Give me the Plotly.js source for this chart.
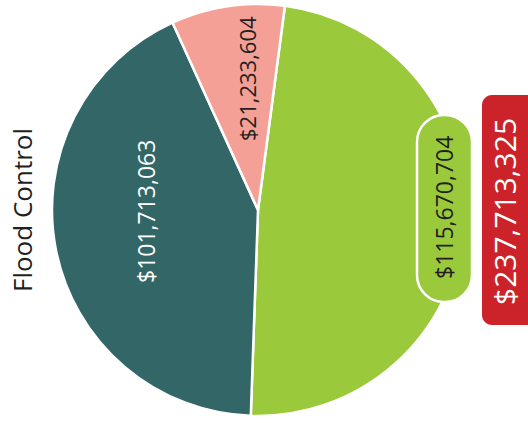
<!DOCTYPE html>
<html>
<head>
<meta charset="utf-8">
<script src="https://cdn.plot.ly/plotly-3.0.1.min.js"></script>
<style>html,body{margin:0;padding:0;background:#fff}#chart{width:528px;height:423px}</style>
</head>
<body>
<div id="chart"></div>
<script>
var categories = ["Green", "Teal", "Salmon"];
var values = [115670704, 101713063, 21233604];
var sliceColors = ["#9ACA3C", "#336666", "#F4A096"];
var valueLabels = ["$115,670,704", "$101,713,063", "$21,233,604"];
var totalLabel = "$237,713,325";
var chartTitle = "Flood Control";

var W = 528, H = 423;
function px(x){ return x / W; }
function py(y){ return 1 - y / H; }

function roundRect(x0, y0, x1, y1, r){
  var k = 0.5523;
  var rx = r / W, ry = r / H, kx = rx * k, ky = ry * k;
  var a = px(x0), b = px(x1), t = py(y0), u = py(y1);
  return 'M' + (a+rx) + ',' + t +
    ' L' + (b-rx) + ',' + t +
    ' C' + (b-rx+kx) + ',' + t + ' ' + b + ',' + (t-ry+ky) + ' ' + b + ',' + (t-ry) +
    ' L' + b + ',' + (u+ry) +
    ' C' + b + ',' + (u+ry-ky) + ' ' + (b-rx+kx) + ',' + u + ' ' + (b-rx) + ',' + u +
    ' L' + (a+rx) + ',' + u +
    ' C' + (a+rx-kx) + ',' + u + ' ' + a + ',' + (u+ry-ky) + ' ' + a + ',' + (u+ry) +
    ' L' + a + ',' + (t-ry) +
    ' C' + a + ',' + (t-ry+ky) + ' ' + (a+rx-kx) + ',' + t + ' ' + (a+rx) + ',' + t + ' Z';
}

var font = "'Open Sans', 'DejaVu Sans', sans-serif";

var trace = {
  type: 'pie',
  labels: categories,
  values: values,
  sort: false,
  direction: 'clockwise',
  rotation: 7.5,
  textinfo: 'none',
  hoverinfo: 'none',
  marker: { colors: sliceColors, line: { color: '#ffffff', width: 2.5 } },
  domain: { x: [px(52), px(464)], y: [py(416), py(4)] },
  showlegend: false
};

var layout = {
  width: W, height: H,
  margin: { l: 0, r: 0, t: 0, b: 0 },
  paper_bgcolor: '#ffffff',
  showlegend: false,
  shapes: [
    { type: 'path', xref: 'paper', yref: 'paper', path: roundRect(417, 115, 472, 302, 27),
      fillcolor: '#9ACA3C', line: { color: '#ffffff', width: 2.5 }, layer: 'above' },
    { type: 'path', xref: 'paper', yref: 'paper', path: roundRect(482, 95, 540, 325, 10),
      fillcolor: '#CC2229', line: { width: 0 }, layer: 'above' }
  ],
  annotations: [
    { text: chartTitle, xref: 'paper', yref: 'paper', x: px(22), y: py(210), textangle: -90,
      showarrow: false, xanchor: 'center', yanchor: 'middle', font: { family: font, size: 26, color: '#231F20' } },
    { text: valueLabels[0], xref: 'paper', yref: 'paper', x: px(444), y: py(208), textangle: -90,
      showarrow: false, xanchor: 'center', yanchor: 'middle', font: { family: font, size: 23, color: '#231F20' } },
    { text: valueLabels[1], xref: 'paper', yref: 'paper', x: px(146), y: py(212), textangle: -90,
      showarrow: false, xanchor: 'center', yanchor: 'middle', font: { family: font, size: 23, color: '#ffffff' } },
    { text: valueLabels[2], xref: 'paper', yref: 'paper', x: px(247), y: py(79), textangle: -90,
      showarrow: false, xanchor: 'center', yanchor: 'middle', font: { family: font, size: 22, color: '#231F20' } },
    { text: totalLabel, xref: 'paper', yref: 'paper', x: px(505), y: py(212), textangle: -90,
      showarrow: false, xanchor: 'center', yanchor: 'middle', font: { family: font, size: 30, color: '#ffffff' } }
  ]
};

Plotly.newPlot('chart', [trace], layout, { staticPlot: true, displayModeBar: false });
</script>
</body>
</html>
